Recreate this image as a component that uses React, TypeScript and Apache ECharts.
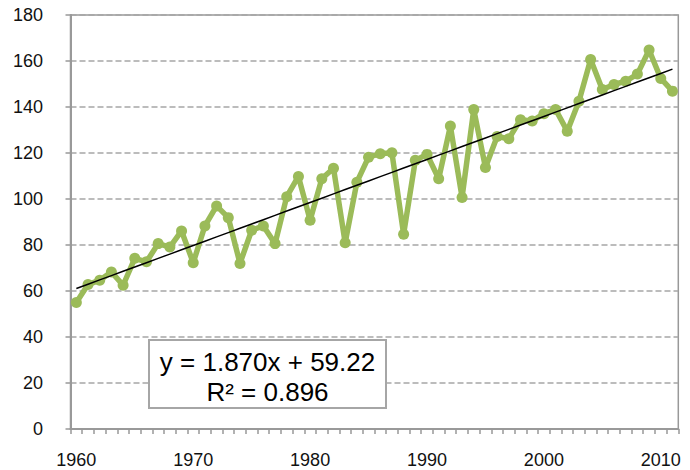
import React, { useEffect, useRef } from "react";
import * as echarts from "echarts";

const years: string[] = [];
for (let y = 1960; y <= 2011; y++) years.push(String(y));

const values: number[] = [
  55.0, 62.8, 64.7, 68.3, 62.5, 74.2, 72.7, 80.6, 79.1, 86.1,
  72.3, 88.3, 97.0, 91.9, 72.0, 86.4, 88.3, 80.6, 101.0, 109.8,
  90.8, 108.8, 113.4, 81.0, 107.3, 118.2, 119.7, 120.1, 84.7, 116.8,
  119.4, 108.8, 131.7, 100.7, 138.9, 113.7, 127.2, 126.2, 134.5, 133.9,
  137.1, 138.9, 129.5, 142.5, 160.7, 147.6, 149.8, 151.2, 154.3, 164.8,
  152.4, 146.9,
];

const trendSlope = 1.87;
const trendIntercept = 59.22;
const equationLines = ["y = 1.870x + 59.22", "R² = 0.896"];

const FONT = "'Liberation Sans', Arial, sans-serif";

export default function App() {
  const ref = useRef<HTMLDivElement>(null);
  useEffect(() => {
    if (!ref.current) return;
    const chart = echarts.init(ref.current, undefined, { renderer: "svg" });
    const trend = values.map((_, i) => +(trendIntercept + trendSlope * (i + 1)).toFixed(3));
    chart.setOption({
      animation: false,
      backgroundColor: "#ffffff",
      grid: {
        left: 70.5,
        right: 11.7,
        top: 15,
        bottom: 41,
        show: true,
        borderColor: "#999999",
        borderWidth: 1.5,
        backgroundColor: "transparent",
      },
      xAxis: {
        type: "category",
        data: years,
        boundaryGap: true,
        axisLine: { show: true, lineStyle: { color: "#999999", width: 2 } },
        axisTick: { show: true, interval: 0, length: 5, lineStyle: { color: "#999999", width: 1.5 } },
        axisLabel: {
          interval: 9,
          margin: 22,
          color: "#111111",
          fontSize: 18,
          fontFamily: FONT,
        },
        splitLine: { show: false },
      },
      yAxis: {
        type: "value",
        min: 0,
        max: 180,
        interval: 20,
        axisLine: { show: true, lineStyle: { color: "#999999", width: 2 } },
        axisTick: { show: true, length: 5, lineStyle: { color: "#999999", width: 1.5 } },
        axisLabel: {
          margin: 27.5,
          color: "#111111",
          fontSize: 18,
          fontFamily: FONT,
        },
        splitLine: {
          show: true,
          lineStyle: { color: "#a6a6a6", width: 1.5, type: [6, 3] },
        },
      },
      series: [
        {
          type: "line",
          data: values,
          symbol: "circle",
          symbolSize: 11,
          showAllSymbol: true,
          lineStyle: { color: "#9bbb59", width: 5.5 },
          itemStyle: { color: "#9bbb59" },
          z: 2,
        },
        {
          type: "line",
          data: trend,
          symbol: "none",
          lineStyle: { color: "#000000", width: 1.5 },
          z: 3,
        },
      ],
      graphic: [
        {
          type: "rect",
          shape: { x: 149, y: 340, width: 237, height: 68 },
          style: { fill: "#ffffff", stroke: "#a6a6a6", lineWidth: 2 },
          z: 10,
        },
        {
          type: "text",
          x: 267.5,
          y: 361.5,
          style: {
            text: equationLines[0],
            fill: "#000000",
            font: `26px ${FONT}`,
            align: "center",
            verticalAlign: "middle",
          },
          z: 11,
        },
        {
          type: "text",
          x: 267.5,
          y: 391.5,
          style: {
            text: equationLines[1],
            fill: "#000000",
            font: `26px ${FONT}`,
            align: "center",
            verticalAlign: "middle",
          },
          z: 11,
        },
      ],
    });
    return () => chart.dispose();
  }, []);
  return (
    <div
      ref={ref}
      style={{ position: "fixed", left: 0, top: 0, width: 690, height: 470, background: "#fff" }}
    />
  );
}
